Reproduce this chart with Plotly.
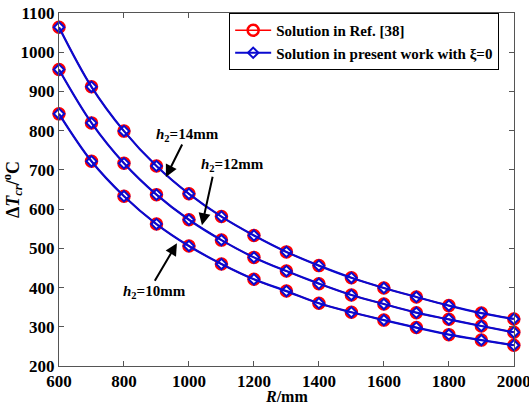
import plotly.graph_objects as go

R = [600, 700, 800, 900, 1000, 1100, 1200, 1300, 1400, 1500, 1600, 1700, 1800, 1900, 2000]
dT_h14 = [1064, 912, 799, 710, 639, 581, 533, 491, 456, 425, 399, 376, 354, 335, 320]
dT_h12 = [956, 820, 717, 637, 573, 521, 477, 442, 410, 381, 358, 336, 319, 302, 286]
dT_h10 = [843, 722, 633, 562, 506, 460, 421, 391, 360, 337, 317, 298, 280, 266, 253]
series = [dT_h14, dT_h12, dT_h10]
legend_names = ["Solution in Ref. [38]", "Solution in present work with ξ=0"]
x_ticks = [600, 800, 1000, 1200, 1400, 1600, 1800, 2000]
y_ticks = [200, 300, 400, 500, 600, 700, 800, 900, 1000, 1100]

FONT = "Liberation Serif"
BLUE = "#0a0ad0"
fig = go.Figure()

for i, ys in enumerate(series):
    fig.add_trace(go.Scatter(
        x=R, y=ys, mode="lines+markers", name=legend_names[0],
        showlegend=(i == 0), legendrank=1, cliponaxis=False,
        line=dict(color="red", width=1.5, shape="spline"),
        marker=dict(symbol="circle-open", size=11, color="red", line=dict(width=2.5, color="red")),
    ))
for i, ys in enumerate(series):
    fig.add_trace(go.Scatter(
        x=R, y=ys, mode="lines+markers", name=legend_names[1],
        showlegend=(i == 0), legendrank=2, cliponaxis=False,
        line=dict(color=BLUE, width=2.2, shape="spline"),
        marker=dict(symbol="diamond-open", size=8, color=BLUE, line=dict(width=2, color=BLUE)),
    ))

axis_common = dict(
    showgrid=False, zeroline=False, showline=True, linecolor="#555", linewidth=1,
    mirror="ticks", ticks="inside", ticklen=5, tickcolor="#555",
    tickfont=dict(family=FONT, size=17, color="black", weight="bold"),
    ticklabeloverflow="allow", automargin=False,
)
fig.update_xaxes(range=[600, 2000.5], tickmode="array", tickvals=x_ticks,
                 ticktext=[str(v) for v in x_ticks], **axis_common)
fig.update_yaxes(range=[200, 1100.2], tickmode="array", tickvals=y_ticks,
                 ticktext=[str(v) for v in y_ticks],
                 title=dict(text="Δ<i>T</i><sub><i>cr</i></sub>/<sup>o</sup>C", font=dict(family=FONT, size=18, color="black", weight="bold"), standoff=6),
                 **axis_common)

# x-axis title placed as annotation (below the tick labels)
fig.add_annotation(xref="paper", yref="paper", x=0.5, y=-0.086, yanchor="middle",
                   text="<i>R</i>/mm", showarrow=False,
                   font=dict(family=FONT, size=16, color="black", weight="bold"))

labels = [
    ("<i>h</i><sub>2</sub>=14mm", 997, 789, 929, 682, 17, -34),
    ("<i>h</i><sub>2</sub>=12mm", 1135, 712, 1040, 559, 11, -50),
    ("<i>h</i><sub>2</sub>=10mm", 895, 388, 963, 513, -23, 39),
]
for txt, tx, ty, px, py, ax, ay in labels:
    fig.add_annotation(x=tx, y=ty, text=txt, showarrow=False,
                       font=dict(family=FONT, size=15, color="black", weight="bold"))
    fig.add_annotation(x=px, y=py, text="", showarrow=True, ax=ax, ay=ay,
                       arrowhead=2, arrowsize=1.2, arrowwidth=2, arrowcolor="black", standoff=0)

fig.update_layout(
    width=529, height=404,
    margin=dict(l=59, r=15, t=13, b=38),
    paper_bgcolor="white", plot_bgcolor="white",
    legend=dict(x=0.374, y=1.0, xanchor="left", yanchor="top",
                bordercolor="black", borderwidth=1, bgcolor="white",
                font=dict(family=FONT, size=15, color="black", weight="bold"),
                tracegroupgap=0, itemwidth=36),
)

fig.write_html("out.html")
